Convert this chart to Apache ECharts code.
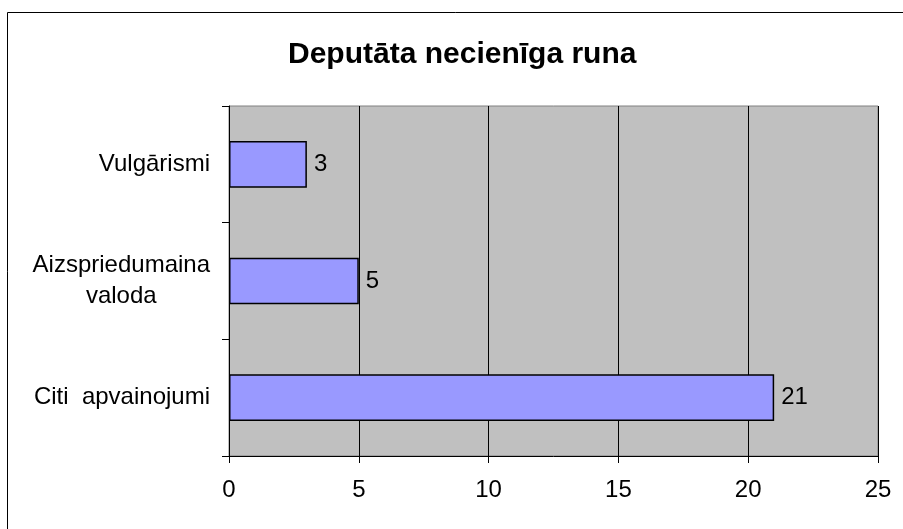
<!DOCTYPE html>
<html>
<head>
<meta charset="utf-8">
<script src="https://cdn.jsdelivr.net/npm/echarts@6/dist/echarts.min.js"></script>
<style>
  html, body { margin: 0; padding: 0; background: #fff; }
  #chart { width: 903px; height: 529px; }
</style>
</head>
<body>
<div id="chart"></div>
<script>
  // data (bottom to top)
  var categories = ['Citi  apvainojumi', 'Aizspriedumaina\nvaloda', 'Vulgārismi'];
  var values = [21, 5, 3];
  var xTicks = [0, 5, 10, 15, 20, 25];

  var font = '"Liberation Sans", Arial, sans-serif';
  var myChart = echarts.init(document.getElementById('chart'));

  var option = {
    backgroundColor: '#fff',
    animation: false,
    title: {
      text: 'Deputāta necienīga runa',
      left: 283,
      top: 35,
      textStyle: { fontFamily: font, fontSize: 30, fontWeight: 'bold', color: '#000' }
    },
    graphic: [{
      type: 'rect',
      shape: { x: 7.5, y: 12.5, width: 1000, height: 1000 },
      style: { fill: 'none', stroke: '#000', lineWidth: 1 },
      z: 100
    }],
    grid: {
      left: 229, right: 25, top: 106, bottom: 73,
      show: true,
      backgroundColor: '#c0c0c0',
      borderColor: '#808080',
      borderWidth: 1
    },
    xAxis: {
      type: 'value',
      min: xTicks[0],
      max: xTicks[xTicks.length - 1],
      interval: 5,
      axisLine: { show: true, lineStyle: { color: '#000', width: 1 } },
      axisTick: { show: true, length: 7, lineStyle: { color: '#000' } },
      axisLabel: { color: '#000', fontFamily: font, fontSize: 24, margin: 22 },
      splitLine: { show: true, lineStyle: { color: '#000', width: 1 } }
    },
    yAxis: {
      type: 'category',
      data: categories,
      axisLine: { show: true, lineStyle: { color: '#000', width: 1 } },
      axisTick: { show: true, length: 7, lineStyle: { color: '#000' } },
      axisLabel: {
        color: '#000',
        fontFamily: font,
        fontSize: 24,
        margin: 19,
        formatter: function (v) {
          return v.split('\n').map(function (s) { return '{c|' + s + '}'; }).join('\n');
        },
        rich: {
          c: { align: 'center', fontFamily: font, fontSize: 24, lineHeight: 31, color: '#000' }
        }
      },
      splitLine: { show: false }
    },
    series: [{
      type: 'bar',
      data: values,
      barWidth: '40%',
      itemStyle: { color: '#9999ff', borderColor: '#000', borderWidth: 1.5 },
      label: {
        show: true,
        position: 'right',
        distance: 7,
        color: '#000',
        fontFamily: font,
        fontSize: 24
      }
    }]
  };

  myChart.setOption(option);
</script>
</body>
</html>
